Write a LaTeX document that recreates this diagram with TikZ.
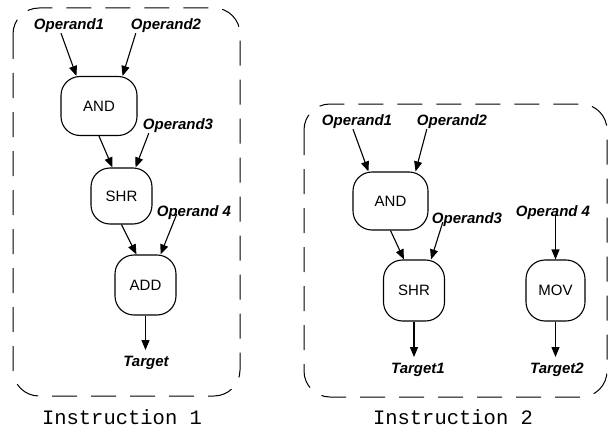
\documentclass[tikz,border=0pt]{standalone}
\usepackage{fontspec}
\setmainfont{Liberation Sans}
\setmonofont{Liberation Mono}
\usetikzlibrary{arrows.meta}
\begin{document}
\begin{tikzpicture}[x=1pt,y=-1pt,
  opbox/.style={draw,line width=1.1pt,rounded corners=19pt,inner sep=0pt,
    font=\fontsize{15}{17}\selectfont},
  lbl/.style={inner sep=0pt,font=\fontsize{15}{17}\selectfont\bfseries\itshape},
  caption/.style={inner sep=0pt,font=\fontsize{20.5}{23}\selectfont\ttfamily},
  group/.style={line width=1pt,dash pattern=on 25pt off 14pt,rounded corners=26pt},
  flow/.style={line width=1.1pt,-{Triangle[length=10pt,width=8pt]}}]
\useasboundingbox (0,0) rectangle (616,436);

% Instruction 1 group
\draw[group] (13,8) rectangle (240,396);
\node[lbl] (a1) at (69,26) {Operand1};
\node[lbl] (a2) at (166,26) {Operand2};
\node[lbl] (a3) at (178,126) {Operand3};
\node[lbl] (a4) at (194,213) {Operand 4};
\node[opbox,minimum width=76pt,minimum height=59pt] (and1) at (99,106) {AND};
\node[opbox,minimum width=61pt,minimum height=56pt] (shr1) at (121.5,196) {SHR};
\node[opbox,minimum width=61pt,minimum height=60pt] (add1) at (145.5,285) {ADD};
\node[lbl] (t1) at (146,363) {Target};
\draw[flow] ([xshift=-8pt]a1.south) -- ([xshift=16pt]and1.north west);
\draw[flow] ([xshift=5pt]a2.south west) -- ([xshift=-15pt]and1.north east);
\draw[flow] (and1.south) -- ([xshift=22pt]shr1.north west);
\draw[flow] ([xshift=6pt]a3.south west) -- ([xshift=-17pt]shr1.north east);
\draw[flow] (shr1.south) -- ([xshift=22pt]add1.north west);
\draw[flow] ([xshift=20pt,yshift=6pt]a4.south west) -- ([xshift=-16pt]add1.north east);
\draw[flow,shorten >=6pt] (add1.south) -- (add1.south |- t1.north);
\node[caption] (c1) at (122,417) {Instruction 1};

% Instruction 2 group
\draw[group] (304,104) rectangle (607,397);
\node[lbl] (b1) at (357,122) {Operand1};
\node[lbl] (b2) at (452,122) {Operand2};
\node[lbl] (b3) at (467,220) {Operand3};
\node[lbl] (b4) at (553,213) {Operand 4};
\node[opbox,minimum width=75pt,minimum height=58pt] (and2) at (390.5,201) {AND};
\node[opbox,minimum width=61pt,minimum height=61pt] (shr2) at (414,290.5) {SHR};
\node[opbox,minimum width=59pt,minimum height=61pt] (mov2) at (555.5,290.5) {MOV};
\node[lbl] (t21) at (418,370) {Target1};
\node[lbl] (t22) at (557,370) {Target2};
\draw[flow] ([xshift=-4pt]b1.south) -- ([xshift=16pt]and2.north west);
\draw[flow] ([xshift=10pt]b2.south west) -- ([xshift=-13pt]and2.north east);
\draw[flow] (and2.south) -- ([xshift=21pt]shr2.north west);
\draw[flow] ([xshift=11pt,yshift=5pt]b3.south west) -- ([xshift=-14pt]shr2.north east);
\draw[flow] ([yshift=5pt]b4.south -| mov2.north) -- (mov2.north);
\draw[flow,shorten >=6pt] (shr2.south) -- (shr2.south |- t21.north);
\draw[flow,shorten >=6pt] (mov2.south) -- (mov2.south |- t22.north);
\node[caption] (c2) at (453,417) {Instruction 2};
\end{tikzpicture}
\end{document}
